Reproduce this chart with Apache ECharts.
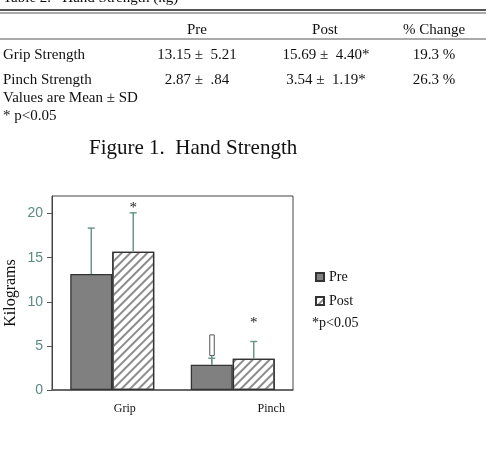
<!DOCTYPE html>
<html>
<head>
<meta charset="utf-8">
<script src="https://cdn.jsdelivr.net/npm/echarts@6/dist/echarts.min.js"></script>
<style>
  html, body { margin: 0; padding: 0; background: #fff; }
  #main { width: 486px; height: 449px; }
</style>
</head>
<body>
<div id="main"></div>
<script>
// table data
var tableTitle = 'Table 2.   Hand Strength (kg)'
var tableColumns = ['Pre', 'Post', '% Change']
var tableRows = ['Grip Strength', 'Pinch Strength']
var preCells = ['13.15 \u00b1  5.21', '2.87 \u00b1  .84']
var postCells = ['15.69 \u00b1  4.40*', '3.54 \u00b1  1.19*']
var changeCells = ['19.3 %', '26.3 %']
var tableNotes = ['Values are Mean \u00b1 SD', '* p<0.05']

// chart data
var categories = ['Grip', 'Pinch']
var preMean = [13.15, 2.87]
var postMean = [15.69, 3.54]
var preErrHigh = [18.36, 3.6]
var postErrHigh = [20.09, 5.5]
var pinchPreBox = [3.9, 6.25]   // odd hollow box above pinch pre bar
var starY = [21.1, 8.0]          // asterisks over post bars
var yTicks = [0, 5, 10, 15, 20]

var serif = 'Liberation Serif'
var errColor = '#6c968d'
var half = 21

var chart = echarts.init(document.getElementById('main'))

// table graphics
var g = []
function txt(t, x, y, size, align) {
    g.push({ type: 'text', silent: true, style: { text: t, x: x, y: y, fill: '#111', fontFamily: serif, fontSize: size, align: align || 'left', verticalAlign: 'middle' } })
}
function hline(y, w) {
    g.push({ type: 'line', silent: true, shape: { x1: 0, y1: y, x2: 486, y2: y }, style: { stroke: '#555', lineWidth: w } })
}
txt(tableTitle, 3, -2, 15)
hline(10, 2)
hline(13, 1)
var colX = [197, 325, 434]
tableColumns.forEach(function (c, i) { txt(c, colX[i], 30, 15, 'center') })
hline(39, 1)
tableRows.forEach(function (r, i) {
    var y = 55 + i * 25
    txt(r, 3, y, 15)
    txt(preCells[i], 197, y, 15, 'center')
    txt(postCells[i], 326, y, 15, 'center')
    txt(changeCells[i], 434, y, 15, 'center')
})
txt(tableNotes[0], 3, 98, 15)
txt(tableNotes[1], 3, 116, 15)
txt('Figure 1.  Hand Strength', 89, 148, 21)
txt('*p<0.05', 312, 323, 14)

var errData = []
categories.forEach(function (c, i) {
    errData.push([i, preMean[i], preErrHigh[i], -1])
    errData.push([i, postMean[i], postErrHigh[i], 1])
})

function renderErr(params, api) {
    var x = api.coord([api.value(0), 0])[0] + api.value(3) * half
    var y0 = api.coord([api.value(0), api.value(1)])[1]
    var y1 = api.coord([api.value(0), api.value(2)])[1]
    var st = { stroke: errColor, lineWidth: 1.5 }
    return {
        type: 'group',
        children: [
            { type: 'line', shape: { x1: x, y1: y0, x2: x, y2: y1 }, style: st },
            { type: 'line', shape: { x1: x - 3.5, y1: y1, x2: x + 3.5, y2: y1 }, style: st }
        ]
    }
}

function renderBox(params, api) {
    var x = api.coord([api.value(0), 0])[0] - half
    var yb = api.coord([api.value(0), api.value(1)])[1]
    var yt = api.coord([api.value(0), api.value(2)])[1]
    var ym = api.coord([api.value(0), preMean[1]])[1]
    return {
        type: 'group',
        children: [
            { type: 'line', shape: { x1: x, y1: ym, x2: x, y2: yb }, style: { stroke: errColor, lineWidth: 1.5 } },
            { type: 'rect', shape: { x: x - 2, y: yt, width: 4.5, height: yb - yt }, style: { fill: '#fff', stroke: '#555', lineWidth: 1 } }
        ]
    }
}

function renderStar(params, api) {
    var p = api.coord([api.value(0), api.value(1)])
    return {
        type: 'text',
        style: { text: '*', x: p[0] + half, y: p[1] + 4, fill: '#222', fontFamily: serif, fontSize: 15, align: 'center', verticalAlign: 'middle' }
    }
}

var option = {
    animation: false,
    graphic: g,
    grid: { left: 52, right: 193, top: 196, bottom: 59, show: true, borderColor: '#444', borderWidth: 1 },
    legend: {
        data: ['Pre', 'Post'],
        orient: 'vertical',
        left: 310,
        top: 265,
        itemWidth: 8,
        itemHeight: 8,
        itemGap: 10,
        icon: 'rect',
        textStyle: { fontFamily: serif, fontSize: 14, color: '#111' }
    },
    xAxis: {
        type: 'category',
        data: categories,
        axisTick: { show: false },
        axisLine: { lineStyle: { color: '#555', width: 1.5 } },
        axisLabel: {
            margin: 13,
            fontFamily: serif,
            fontSize: 12,
            color: '#111',
            formatter: function (v) { return v === 'Grip' ? '{g|' + v + '}' : '{p|' + v + '}' },
            rich: {
                g: { padding: [0, 0, 0, 25], fontFamily: serif, fontSize: 12, color: '#111' },
                p: { padding: [0, 0, 0, 77], fontFamily: serif, fontSize: 12, color: '#111' }
            }
        }
    },
    yAxis: {
        type: 'value',
        min: 0,
        max: 22,
        name: 'Kilograms',
        nameLocation: 'middle',
        nameGap: 33,
        nameTextStyle: { fontFamily: serif, fontSize: 16, color: '#111' },
        splitLine: { show: false },
        axisLine: { show: true, lineStyle: { color: '#444' } },
        axisTick: { show: true, length: 5, customValues: yTicks, lineStyle: { color: '#555' } },
        axisLabel: { customValues: yTicks, margin: 9, fontFamily: 'Liberation Sans', fontSize: 14, color: '#5a8a82' }
    },
    series: [
        {
            name: 'Pre',
            type: 'bar',
            data: preMean,
            barWidth: 42,
            barGap: '0%',
            itemStyle: { color: '#808080', borderColor: '#333', borderWidth: 1.3 }
        },
        {
            name: 'Post',
            type: 'bar',
            data: postMean,
            barWidth: 42,
            itemStyle: {
                color: '#fff',
                borderColor: '#333',
                borderWidth: 1.3,
                decal: { symbol: 'rect', symbolSize: 1, color: '#8c8c8c', dashArrayX: [1, 0], dashArrayY: [2, 3.5], rotation: -Math.PI / 4 }
            }
        },
        {
            type: 'custom',
            renderItem: renderErr,
            data: errData,
            z: 5,
            silent: true
        },
        {
            type: 'custom',
            renderItem: renderBox,
            data: [[1, pinchPreBox[0], pinchPreBox[1]]],
            z: 5,
            silent: true
        },
        {
            type: 'custom',
            renderItem: renderStar,
            data: starY.map(function (v, i) { return [i, v] }),
            z: 5,
            silent: true
        }
    ]
}
chart.setOption(option)
</script>
</body>
</html>
